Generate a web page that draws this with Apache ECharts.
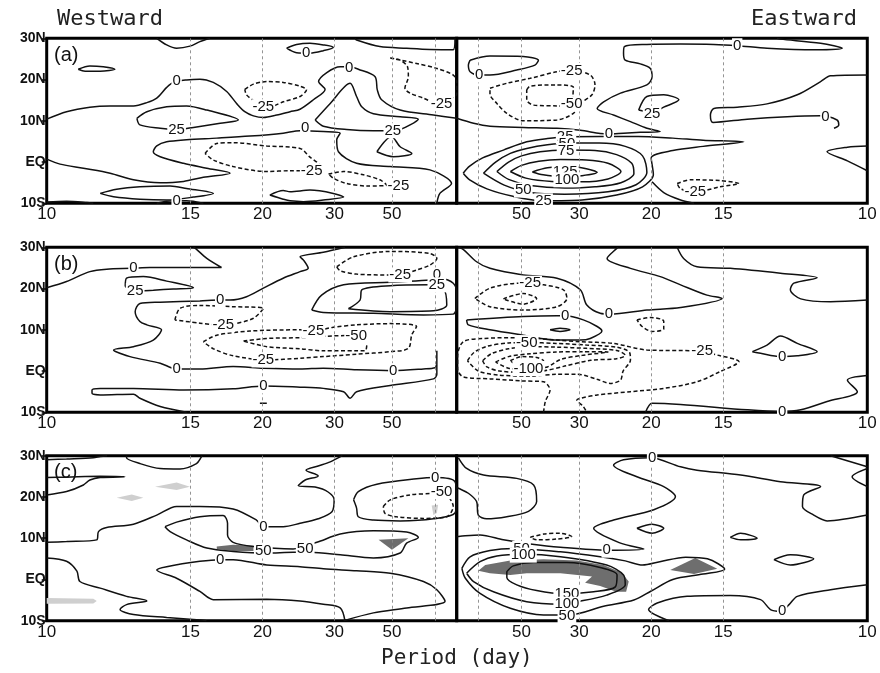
<!DOCTYPE html>
<html><head><meta charset="utf-8">
<script src="https://cdn.jsdelivr.net/npm/echarts@6/dist/echarts.min.js"></script>
<style>html,body{margin:0;padding:0;background:#fff}#c{width:880px;height:673px}</style>
</head><body><div id="c"></div>
<script>
// x: frequency in 10^-3 cycles/day (westward half mirrored), y: latitude (deg, south < 0)
const periodLabels = [10, 15, 20, 30, 50];
const periodGuides = [15, 20, 30, 50, 100];
const latTicks = [-10, 0, 10, 20, 30];

// ---------- panel (a) ----------
const aWestSolid = [
  [[74.5,30],[72.2,28.4],[69.9,27.6],[66.8,28.1],[64.5,29.2],[62.2,30]],
  [[92.7,22.5],[90,23.3],[86.9,23.1],[84.2,22.5],[87.6,22],[91.1,22],[92.7,22.5]],
  [[100,10.4],[95.4,12.2],[90,13.3],[85.3,13.6],[79.9,13.6],[76.8,14.4],[74.5,15.5],[72.2,18.1],[70.7,19.3],[67.6,19.9],[64.5,20.1],[61.4,19.3],[58.3,17.1],[56,14.2],[54.1,12.2],[52.1,11.2],[49.8,10.8],[46.7,11.4],[43.6,12.2],[41.3,12.8],[38.2,15.1],[35.5,17.6],[37,19.5],[35.1,21.7],[32,23.1],[29.9,23.1],[27.8,22.5],[23.9,20.7],[23.4,17.5],[22.4,15.1],[18.1,12.6],[10.4,11.4],[5,10.6]],
  [[79.1,10.6],[76.8,12.2],[72.2,13.4],[67.6,13.6],[62.9,12.6],[55.6,10.2],[59.8,9.4],[66,8.4],[69.9,7.9],[73.7,8.2],[78.4,9],[79.1,10.6]],
  [[37.8,10.2],[34.3,14.2],[29.7,19.1],[28.2,15.9],[27,13.4],[24.3,11.7],[18.1,11],[13.9,10.4],[15.8,9],[18.1,7.9],[19.8,7.6],[24.3,7.6],[30.5,7.9],[35.9,8.7],[37.8,10.2]],
  [[23.5,2.5],[20.1,6.2],[18.1,3.7],[15.4,2.1],[19.7,1.3],[23.5,2.5]],
  [[100,0.7],[96.9,-0.5],[91.5,-1.5],[85.3,-2.7],[79.9,-4.3],[73.7,-5],[68.3,-4.7],[63.7,-3.7],[57.5,-2.7],[62.9,-1.5],[68.3,-0.3],[73.7,1.3],[75.3,2.5],[74.5,3.9],[72.2,4.9],[67.6,5.4],[60.6,5.8],[52.9,6.3],[45.2,7],[41.3,7.6],[35.9,7.4],[32,7],[32.8,5.4],[32.4,2.5],[28.2,-0.3],[20.4,-1.1],[11.2,-1.9],[6.2,-5.2],[8.9,-7.6],[9.6,-10]],
  [[48.3,-8],[45.2,-6.9],[43.6,-7.2],[39,-6.8],[33.6,-7.6],[31.2,-8.5],[35.9,-9.2],[40.5,-9.6],[43.6,-9.4],[45.2,-9],[48.3,-8]],
  [[87.6,-7.6],[83.8,-6.6],[78.4,-6],[71.4,-5.8],[67.6,-6.4],[61.4,-7.6],[66,-8.5],[72.2,-9.2],[78.4,-9],[84.5,-8.4],[87.6,-7.6]],
  [[74.5,-10],[72.2,-9.5],[67.6,-9.4],[63.7,-10]],
  [[100,-9.7],[95.4,-9.5],[90.7,-9.8],[89.2,-10]],
  [[28.5,30],[28.2,29.6],[22.8,28],[16.6,27.6],[11.2,27.3],[5.8,27.2],[5.4,30]],
  [[44.4,27.6],[42.1,28.5],[39,28.8],[35.9,28.4],[33.6,27.8],[35.9,27],[39,26.4],[42.1,26.5],[44.4,27.6]]
];
const aWestDashed = [
  [[54.1,17.6],[52.1,18.9],[49,19.5],[45.2,19.3],[41.3,18.4],[39.8,17.5],[41.3,15.9],[45.2,14.6],[47.5,13.6],[49.8,13.3],[52.1,14.9],[53.7,16.3],[54.1,17.6]],
  [[20.4,25.2],[18.1,24.7],[16.4,23.1],[16.2,20.7],[17,17.9],[15.8,16.7],[12.7,15.5],[10.4,14.6],[7.5,15],[5,16.5],[5,19.5],[5.8,21.1],[9.6,22.7],[14.3,23.9],[20.4,25.2]],
  [[63.3,2.1],[60.6,4.5],[56.8,4.7],[49,3.9],[41.3,3.3],[39,1.2],[36.3,-1.1],[40.5,-2.1],[43.6,-2.1],[49,-2.3],[56.8,-1.1],[61.4,0.5],[63.3,2.1]],
  [[34.7,-2.9],[31.2,-2.3],[26.6,-3.1],[22.8,-4.3],[21.2,-5.6],[25.8,-5.8],[30.5,-5.2],[33.6,-3.9],[34.7,-2.9]]
];
const aWestLabels = [
  [69.9,19.8,'0'],[49.8,13.4,'-25'],[69.9,7.9,'25'],[69.9,-9.4,'0'],[39.9,26.4,'0'],[29.9,22.9,'0'],
  [40.1,8.2,'0'],[19.8,7.6,'25'],[8.5,14.2,'-25'],[38.6,-2.1,'-25'],[18.5,-5.7,'-25']
];
const aEastSolid = [
  [[8.1,24.7],[12.7,25.7],[20.4,25.6],[23.9,24.7],[23.1,23.5],[18.9,22.3],[12.7,21.1],[10.2,21.1],[8.1,21.9],[7.7,23.5],[8.1,24.7]],
  [[5,10.6],[8.9,9.4],[12.7,8.7],[20.4,8.4],[28.2,8.2],[33.6,7.7],[38.2,6.9],[40.2,6.8],[43.6,7],[47.5,7.2],[52.1,7.4],[49,8.2],[45.2,9.8],[41.3,11.4],[37.5,13],[39,14.6],[42.9,16.7],[49,18.7],[50.2,20.7],[49.8,22.7],[47.5,23.8],[44,24.7],[43.6,26.4],[43.8,28],[49,28.5],[56.8,28.6],[64.5,28.5],[69.9,28.2],[76.8,27.6],[87.6,27.2],[94.2,27.6],[89.2,28.8],[79.9,29.8],[79.1,30]],
  [[47.1,12.6],[49,15.9],[52.9,16.3],[56.4,15.1],[52.9,13.3],[50.2,12],[47.1,12.6]],
  [[100,21.1],[91.5,20.9],[89.2,19.5],[83.8,16.3],[76.8,14.1],[69.9,13.3],[64.5,13],[63.7,11.4],[64.3,9.6],[72.2,10.4],[81.5,11],[89.2,11.2],[93,10.2],[93.4,9],[92.3,8.2]],
  [[100,3.9],[95.4,3.6],[90.7,2.5],[95.4,0.3],[100,-2.1]],
  [[50.2,-4.8],[52.9,-7.4],[56.8,-9.2],[59.9,-10]],
  [[6.5,-2.7],[8,-1],[11,1],[15.8,2.9],[21.2,4.9],[26,5.7],[30,6.1],[38,6.2],[47,6.2],[55,5.8],[62,5.3],[71.4,4.9],[62,3.8],[55,2.8],[50,1],[50.5,-3],[48,-6],[42,-8],[34,-9.2],[25,-9.4],[18,-8.3],[12,-6.5],[8,-4.3],[6.5,-2.7]],
  [[11.2,-2.7],[14,0],[17.4,2.1],[21.2,3.3],[26,4.2],[31,4.6],[38,4.6],[44,3.8],[48,1.5],[49,-2.5],[46.5,-5.5],[40,-7.2],[30,-7.8],[22,-7.4],[16,-5.6],[11.2,-2.7]],
  [[14.3,-2.3],[17,0],[20,1.5],[24.3,2.5],[30,2.9],[37,2.8],[42,1.8],[45.5,-0.3],[46,-2.8],[43,-5],[37,-6],[30,-6.3],[22,-5.7],[17,-4.2],[14.3,-2.3]],
  [[17.4,-2.3],[20,-0.8],[24,0.2],[29,0.6],[35,0.5],[40,-0.3],[43,-2.3],[40,-4.1],[34,-4.8],[27,-4.7],[21,-3.9],[17.4,-2.3]],
  [[22.5,-2.4],[26,-1.4],[31,-1.1],[35,-1.6],[37.5,-2.5],[34,-3.3],[29,-3.5],[25,-3.1],[22.5,-2.4]]
];
const aEastDashed = [
  [[12.7,17.9],[16.6,19.1],[22,20.3],[28.2,21.9],[31.6,22.2],[35.9,21.1],[37,18.7],[36.3,16.3],[33.6,14.2],[32,11.8],[28.2,10.2],[20.4,10],[16.6,11.8],[14.3,14.2],[12.7,16.5],[12.7,17.9]],
  [[21.2,17.5],[22,18.4],[28.2,18.7],[32,18.1],[31.9,15.9],[31.9,13.4],[28.2,13.6],[22.8,13.8],[21.2,15.1],[21.2,17.5]],
  [[56,-5.2],[59.1,-4.3],[66,-4.5],[70.3,-5.2],[66,-6],[60.2,-7.2],[56.8,-6.5],[56,-5.2]]
];
const aEastLabels = [
  [10.2,21.1,'0'],[31.6,22.2,'-25'],[31.6,14.1,'-50'],[69.9,28.2,'0'],[50.2,11.8,'25'],[40.2,6.8,'0'],
  [90.3,11,'0'],[60.2,-7.2,'-25'],[30.1,6.1,'25'],[30.5,4.5,'50'],[30.3,2.8,'75'],[30.1,-2.4,'125'],
  [30.5,-4.3,'100'],[20.4,-6.8,'50'],[25.1,-9.4,'25']
];

// ---------- panel (b) ----------
const bWestSolid = [
  [[100,20.2],[95.4,21.7],[90,24.1],[86.1,24.7],[80.3,24.9],[76.1,25.1],[67.6,25.1],[59.5,25.1],[62.9,27.3],[65.6,29.8],[66,30]],
  [[81.8,20.5],[81.5,22.5],[77.6,22.9],[72.2,21.8],[66,20.2],[70.7,19.9],[75.3,19.6],[79.9,19.4],[81.8,20.5]],
  [[30.9,30],[35.9,28.8],[41.3,27.7],[40.5,26.9],[39.4,24.9],[41.3,24.1],[45.2,22.5],[49.8,20.1],[53.7,18],[57.5,17.2],[59.8,17.2],[64.5,17],[73.7,16.7],[78.4,16.4],[79.5,14.4],[78.4,12],[76.8,11.2],[73.4,10],[75.3,7.5],[79.9,5.9],[84.5,5.1],[80.7,3.5],[73.7,1.9],[69.9,0.5],[64.5,0.5],[56.8,1.1],[49.8,0.7],[41.3,0.5],[35.9,0.7],[28.2,0.3],[19.7,0.1],[12.7,0.5],[10,0.8],[9.7,1.5]],
  [[67.6,-10],[73.7,-8.6],[78.4,-6.6],[79.9,-5.6],[87.6,-5.8],[89.5,-5.4],[89.5,-4.6],[87.6,-4.2],[79.9,-4.2],[68.3,-4.6],[56.8,-4.3],[49.8,-3.6],[41.3,-3.9],[35.9,-4.2],[31.2,-5],[29.7,-6.6],[28.2,-5],[20.4,-3.5],[10.4,-1.9],[9.6,-0.8],[9.6,2.5],[9.6,4.9]],
  [[38.6,14.8],[36.3,18.4],[31.2,20.9],[20.4,21.5],[12,22],[8.5,22.4],[5.8,21.3],[5,19],[5,16],[5.8,13.8],[12.7,13.6],[24.3,14],[35.9,14.2],[38.6,14.8]],
  [[30.1,15.1],[27.4,17.2],[27,19.7],[20.4,20.7],[11.2,20.9],[8.1,20.1],[7.3,16],[10.4,14.6],[20.4,14.4],[30.1,15.1]],
  [[50.6,-7.8],[49,-7.8]]
];
const bWestDashed = [
  [[70.3,12.4],[69.1,15.2],[64.5,15.9],[56.8,15.6],[49.8,15.2],[52.1,12.8],[56.8,11.4],[59.8,11.2],[64.5,11.6],[70.3,12.4]],
  [[63.7,7.1],[60.6,8.7],[52.9,9.7],[41.3,10],[38.2,9.8],[33.6,10.6],[28.2,11.2],[20.4,11.5],[14.3,10.8],[15.4,8.8],[16.2,5.5],[20.4,4.7],[28.2,4.1],[35.9,3.5],[41.3,3.1],[49,2.7],[56.8,3.7],[61.4,5.4],[63.7,7.1]],
  [[54.4,7.3],[49,7.9],[41.3,8.1],[30.5,8.6],[25.8,7.5],[26.2,4.9],[35.9,4.9],[41.3,5.4],[49,5.9],[54.4,7.3]],
  [[32.8,25.3],[28.9,27.7],[20.4,29],[11.2,28.5],[9.6,27.3],[11.2,25.7],[14.3,24.5],[18.1,23.3],[20.4,23.3],[28.2,23.5],[32,24.3],[32.8,25.3]]
];
const bWestLabels = [
  [79.9,24.9,'0'],[79.5,19.5,'25'],[59.8,17.2,'0'],[59.1,11.2,'-25'],[49.8,2.7,'-25'],[69.9,0.5,'0'],
  [49.8,-3.6,'0'],[18.1,23.3,'-25'],[9.6,23.3,'0'],[9.6,20.9,'25'],[38.2,9.8,'-25'],[28.3,8.6,'-50'],[19.7,0.1,'0']
];
const bEastSolid = [
  [[5.4,30],[6.5,29.5],[9.6,26.5],[12.7,24.9],[20.4,23.3],[28.2,22.5],[33.6,19.7],[35.1,16],[38.2,14],[40.5,13.8],[49,14.8],[56.8,15.4],[66.4,17.6],[62.9,18.4],[56.8,20.9],[52.1,22.9],[45.2,24.9],[39.8,27.3],[42.1,29.8],[42.3,30]],
  [[56,30],[57.5,27.3],[60.6,25.3],[68.3,24.9],[79.9,23.7],[88.4,22.6],[83,21.3],[82.2,19.7],[84.6,17.5],[91.5,16.8],[100,17.2]],
  [[7.3,12.4],[20.4,13.2],[28.2,13.4],[30.1,13.4],[34.3,12.4],[37.5,10.8],[38.6,9.7],[35.9,7.9],[33.6,7.5],[28.2,7.5],[20.4,8.7],[12.7,10],[7.7,11.2],[7.3,12.4]],
  [[26.6,10],[28.9,10.4],[31.2,10],[28.9,9.6],[26.6,10]],
  [[73.4,4.7],[76.8,6.3],[79.9,8.5],[83.8,6.7],[88.4,4.7],[83.8,3.7],[79.9,3.5],[75.3,4.3],[73.4,4.7]],
  [[100,-1.1],[95.4,-2.2],[97.7,-5],[90.7,-7.4],[84.6,-9.4],[79.9,-9.8],[72.2,-9.4],[56.8,-8.1],[50.2,-7.8],[48.7,-10]]
];
const bEastDashed = [
  [[25.1,-10],[25.5,-7.4],[26.6,-4.6],[25.1,-2.6],[20.4,-2.4],[12.7,-1.9],[6.5,-1.4],[5.2,0.5],[5.2,3.5],[6.5,7.1],[11.2,7.9],[19.7,8.1],[28.2,7.5],[33.6,7.1],[41.3,6.7],[49,5.1],[59.9,4.9],[66,3.7],[70.3,2.3],[66,-0.1],[60.6,-2.6],[52.9,-4.2],[45.2,-5],[37.5,-5.8],[33.6,-6.6],[32.8,-7],[34.3,-8.6],[35.1,-10]],
  [[9.2,17.6],[12.7,20.1],[19.7,21.3],[25.1,20.9],[29.7,19.7],[30.5,17.6],[28.2,15.6],[20.4,14.8],[12.7,15.6],[9.2,17.6]],
  [[15.8,17.5],[20.4,18.8],[23.5,17.6],[20.4,16.2],[15.8,17.5]],
  [[46.7,12.4],[49.8,13],[52.9,12.1],[52.9,10.2],[50.2,9.6],[47.9,10.8],[46.7,12.4]],
  [[7.5,2.5],[9,4.5],[12,6],[17,6.8],[21.5,6.9],[28,6.7],[35,6.3],[42,5.8],[45,4.5],[45.2,2.7],[43.5,0],[42.9,-2.2],[40.5,-3],[37.5,-2],[33,-0.8],[28,-0.8],[22,-1.2],[15,-1],[10,0],[7.5,2.5]],
  [[11,2.5],[13,4.2],[17,5.4],[22,5.9],[28,5.8],[35,5.5],[42,5],[44,3.8],[42,3],[36,2.6],[30,1.2],[25,0],[20,-0.3],[15,0],[12,1],[11,2.5]],
  [[14,2.2],[17,3.5],[22,4.2],[28,4.6],[34,4.7],[40,4.6],[34,3.8],[29,2.8],[26,1],[22,0.4],[17,0.7],[14,2.2]],
  [[17.4,2.5],[20.1,3.5],[23.5,3.3],[25.1,2.5],[22.8,1.6],[18.9,1.6],[17.4,2.5]]
];
const bEastLabels = [
  [22,21.3,'-25'],[30.1,13.4,'0'],[40.2,13.8,'0'],[21.2,6.9,'-50'],[21.6,0.6,'-100'],[61.8,5,'-25'],
  [80.3,3.5,'0'],[80.3,-9.8,'0']
];

// ---------- panel (c) ----------
const cWestSolid = [
  [[100,29],[95.4,29.2],[89.2,29.5],[87.6,29.8],[86,30]],
  [[81.5,30],[81.5,29.5],[78.4,28.1],[73.7,26.9],[69.1,26.8],[65.3,28.1],[64.1,29.8],[64,30]],
  [[100,20.5],[95.4,21.3],[91.5,22.9],[90,24.1],[87.6,24.7],[81.9,24.9],[87.6,25],[95.4,24.8],[100,24.7]],
  [[100,9],[95.4,9.2],[88.4,9.6],[88,11.6],[86.1,12.6],[79.9,13.4],[74.5,15.6],[69.9,17.7],[64.5,17.7],[56.8,17.1],[51.4,14.4],[49.8,12.8],[45.2,12.8],[41.3,13.6],[37.1,14.7],[33.9,16.4],[33.4,19.3],[34.8,21.2],[37.8,22.4],[41.7,22.7],[40.1,24.1],[37.1,25.1],[39.9,26.5],[37.1,27.5],[34.3,28.5],[31.5,30]],
  [[28.9,19.3],[27.8,21.3],[23.5,23.1],[14.3,24.4],[10,24.7],[5.4,23.7],[5,19.7],[5.4,16.1],[10.4,14.7],[18.1,14.2],[24.3,14.4],[27.8,15.2],[28.2,17.3],[28.9,19.3]],
  [[72.6,12.8],[69.9,13.9],[64.5,15.2],[59.1,15.5],[58.1,13.6],[58.1,10.8],[56.8,9],[52.1,8],[42.9,7.4],[37.4,9],[32,11],[24.3,11.8],[16.6,11.5],[13.9,10.2],[16.6,8.8],[18.1,6.4],[24.3,5.2],[32,6],[39,6.6],[42.9,6.6],[49,6.4],[56.8,6.8],[62.9,7.6],[67.6,9.6],[71.4,11.6],[72.6,12.8]],
  [[31.2,-10],[24.3,-8.1],[16.6,-6.9],[7.7,-5.3],[9.6,-2.5],[12.7,-0.5],[20.4,1.5],[28.2,2.1],[35.9,2.6],[41.3,3.1],[49,3.5],[56.8,4.8],[59.8,4.8],[64.5,4.4],[72.2,3.1],[74.5,2.3],[69.9,0.3],[64.5,-2.9],[61.4,-4.9],[49,-4.8],[41.3,-5.2],[35.9,-6],[32,-6.9],[30.9,-10]],
  [[100,5.2],[95.4,4.4],[93,2],[92.3,-0.5],[87.6,-2.1],[81.5,-4.1],[76.8,-5.2],[81.5,-6.1],[83,-7.3],[79.9,-8.5],[72.2,-9.2],[64.5,-9.8],[63,-10]]
];
const cWestDashed = [
  [[22,17.7],[20.4,19.3],[15.8,20.5],[10.4,20.9],[8.5,21.3],[5.8,17.7],[7.3,15.2],[12.7,14.8],[18.9,15.2],[21.6,16],[22,17.7]]
];
const cWestLight = [
  [[83.8,19.8],[80.3,20.6],[77.6,19.8],[80.3,19]],
  [[74.9,22.5],[69.9,23.5],[66.8,22.5],[69.9,21.7]],
  [[100,-4.5],[89.2,-4.7],[88.4,-5.2],[89.2,-5.8],[100,-5.9]],
  [[10.8,17.9],[9.3,18.1],[9.6,16.1],[10.4,15.6]]
];
const cWestDark = [
  [[60.6,8],[56.8,8.4],[52.1,8.2],[52.1,6.9],[56.8,6.9],[60.6,7.4]],
  [[23.1,9.6],[16.2,10],[20,7.2]]
];
const cWestLabels = [
  [49.8,12.8,'0'],[49.8,6.9,'50'],[59.8,4.8,'0'],[40.1,7.4,'50'],[10,24.7,'0'],[8.5,21.3,'-50']
];
const cEastSolid = [
  [[5.4,29.5],[7.3,26.9],[11.2,25.3],[18.9,24.5],[22.8,22.9],[23.5,18.9],[21.6,16.5],[16.6,15.2],[11.9,14.7],[10,15.6],[9.6,18.9],[7.7,20.9],[5.4,22.1],[5,22.3]],
  [[5,10.4],[5.8,10.5],[10.4,10.8],[15.8,9.6],[22,8.6],[29,7.8],[39.7,7.1],[48.3,7.4],[42.9,8.8],[36.7,12.4],[41.3,14.4],[50.6,16.9],[55.6,20.1],[52.9,22.5],[46.7,24.9],[41.3,27.7],[43.6,29],[49.8,29.5],[56.8,27.3],[60.6,26.5],[70.7,25.3],[79.9,23.7],[89.2,22.5],[85.3,20.5],[85,17.7],[87.6,15.6],[90.7,14.2],[100,15.6]],
  [[91.5,30],[100,27.3]],
  [[100,26.9],[96.5,24.9],[100,22.5]],
  [[46.7,12.4],[50.2,13.4],[52.9,12.4],[50.2,11.2],[46.7,12.4]],
  [[68.3,10.2],[70.7,11.2],[74.5,10],[70.7,9.6],[68.3,10.2]],
  [[78.4,4.8],[82.2,6],[87.6,5],[82.2,3.5],[78.4,4.8]],
  [[100,-1.3],[91.5,-2.5],[83.8,-4.1],[81.9,-6.1],[79.9,-7.7],[77.6,-7.3],[75.3,-4.9],[68.3,-3.9],[58.3,-4.1],[51.4,-5.7],[49.4,-7.3],[54.1,-10]],
  [[6.2,2.7],[8.1,5.5],[12.7,7],[18.1,7.5],[29,6.7],[38.2,5.5],[44,4.5],[48,3.5],[52,4.3],[58,5.4],[63,5],[67,2.5],[62,1.3],[55,0],[50,-2.8],[46,-5],[39,-6.5],[31.2,-8.6],[25.1,-8.6],[17.4,-7],[10.4,-3.4],[7,0.3],[6.2,2.7]],
  [[7.3,1.5],[10.4,4.3],[14.3,5.7],[20.4,6.1],[29,5.5],[39.7,3.5],[43.6,1.1],[44,-1.3],[39.7,-3.8],[32.8,-5.4],[29,-6],[21.2,-5.4],[13.5,-3],[8.9,-0.5],[7.3,1.5]],
  [[16.6,1.9],[18.1,3.3],[22.8,4.1],[30.5,4.1],[38.2,2.9],[42.1,1.1],[41.7,-1.8],[36.7,-3],[29.7,-3.5],[23.5,-2.7],[18.9,-1.3],[16.6,0.5],[16.6,1.9]]
];
const cEastDashed = [
  [[22,10.2],[25.1,11],[28.9,11.2],[31.6,10.4],[28.2,9.8],[23.5,9.6],[22,10.2]]
];
const cEastLight = [];
const cEastDark = [
  [[10,2.1],[11.6,3.5],[17.4,4.6],[25.1,4.9],[32.8,4.6],[39,3.5],[43.2,1.6],[44.8,-0.5],[44.2,-3],[41.9,-3],[38.2,-1.6],[34.7,-0.8],[36.3,0.7],[29,1.5],[21.2,1.5],[17.4,1.1],[12.7,1.5],[10,2.1]],
  [[54.4,2.3],[60.2,5.2],[65.3,2.6],[59.9,1.3]]
];
const cEastLabels = [
  [39.7,7.1,'0'],[20,7.5,'50'],[20.4,5.9,'100'],[30.5,-3.5,'150'],[30.5,-6,'100'],[30.5,-8.8,'50'],
  [50.2,29.4,'0'],[80.3,-7.7,'0']
];

// ---------- layout ----------
const FONT = '"Liberation Sans", Arial, sans-serif';
const MONO = '"DejaVu Sans Mono", monospace';
const panelTops = [38.3, 247.3, 455.7];
const panelTags = ['(a)', '(b)', '(c)'];
const halves = [
  {left: 46.7, width: 410, inverse: true},
  {left: 456.7, width: 410.6, inverse: false}
];
const panelData = [
  [{solid: aWestSolid, dashed: aWestDashed, labels: aWestLabels, light: [], dark: []},
   {solid: aEastSolid, dashed: aEastDashed, labels: aEastLabels, light: [], dark: []}],
  [{solid: bWestSolid, dashed: bWestDashed, labels: bWestLabels, light: [], dark: []},
   {solid: bEastSolid, dashed: bEastDashed, labels: bEastLabels, light: [], dark: []}],
  [{solid: cWestSolid, dashed: cWestDashed, labels: cWestLabels, light: cWestLight, dark: cWestDark},
   {solid: cEastSolid, dashed: cEastDashed, labels: cEastLabels, light: cEastLight, dark: cEastDark}]
];

const grid = [], xAxis = [], yAxis = [], series = [];
const latName = v => v === 0 ? 'EQ' : (v > 0 ? v + 'N' : (-v) + 'S');

panelTops.forEach((top, p) => {
  halves.forEach((h, k) => {
    const gi = grid.length;
    grid.push({left: h.left, top: top, width: h.width, height: 165, show: true,
      borderColor: '#000', borderWidth: 3, backgroundColor: 'transparent'});
    xAxis.push({type: 'value', gridIndex: gi, min: 5, max: 100, inverse: h.inverse,
      axisLine: {show: false}, axisTick: {show: false}, splitLine: {show: false},
      axisLabel: {customValues: periodLabels.map(d => 1000 / d), formatter: v => String(Math.round(1000 / v)),
        fontSize: 17, color: '#111', fontFamily: FONT, margin: 3, hideOverlap: false}});
    yAxis.push({type: 'value', gridIndex: gi, min: -10, max: 30, interval: 10, show: k === 0,
      axisLine: {show: false}, splitLine: {show: false},
      axisTick: {show: true, length: 5, lineStyle: {color: '#000', width: 1.5}},
      axisLabel: {formatter: latName, fontSize: 14, fontWeight: 'bold', color: '#111', fontFamily: FONT, margin: 1}});

    const d = panelData[p][k];
    // period guide lines
    series.push({type: 'line', xAxisIndex: gi, yAxisIndex: gi, data: [], silent: true, z: 1,
      markLine: {silent: true, symbol: 'none', animation: false, label: {show: false},
        lineStyle: {color: '#888', width: 0.9, type: [3, 3]},
        data: periodGuides.map(pd => ({xAxis: 1000 / pd}))}});
    // shaded significance areas
    const fills = [[d.light, '#cfcfcf'], [d.dark, '#6e6e6e']];
    fills.forEach(([polys, color]) => {
      polys.forEach(poly => {
        series.push({type: 'custom', xAxisIndex: gi, yAxisIndex: gi, clip: true, silent: true, z: 2,
          data: [[poly[0][0], poly[0][1]]],
          renderItem: (params, api) => ({type: 'polygon',
            shape: {points: poly.map(pt => api.coord(pt))}, style: {fill: color}})});
      });
    });
    // contours
    const addLine = (pts, dashed) => series.push({type: 'line', xAxisIndex: gi, yAxisIndex: gi,
      data: pts, showSymbol: false, symbol: 'none', smooth: 0.3, silent: true, z: 3, animation: false,
      lineStyle: {color: '#111', width: 1.5, type: dashed ? [4, 2.5] : 'solid'}});
    d.solid.forEach(pts => addLine(pts, false));
    d.dashed.forEach(pts => addLine(pts, true));
    // contour values
    const labs = d.labels;
    series.push({type: 'custom', xAxisIndex: gi, yAxisIndex: gi, silent: true, z: 5, clip: false,
      data: labs.map(l => [l[0], l[1]]),
      renderItem: (params, api) => {
        const l = labs[params.dataIndex];
        const c = api.coord([l[0], l[1]]);
        return {type: 'text', x: c[0], y: c[1], style: {text: l[2], fill: '#111',
          font: '15px ' + FONT, align: 'center', verticalAlign: 'middle',
          backgroundColor: '#fff', padding: [0, 1]}};
      }});
  });
});

const graphic = [
  {type: 'text', left: 57, top: 8, style: {text: 'Westward', font: '22px ' + MONO, fill: '#222'}},
  {type: 'text', right: 23, top: 8, style: {text: 'Eastward', font: '22px ' + MONO, fill: '#222'}},
  {type: 'text', left: 381, top: 648, style: {text: 'Period (day)', font: '21px ' + MONO, fill: '#222'}}
];
panelTops.forEach((top, p) => graphic.push({type: 'text', left: 54, top: top + 7,
  style: {text: panelTags[p], font: '20px ' + FONT, fill: '#111'}}));

const chart = echarts.init(document.getElementById('c'), null, {renderer: 'canvas'});
chart.setOption({animation: false, backgroundColor: '#fff', grid, xAxis, yAxis, series, graphic});
</script></body></html>
